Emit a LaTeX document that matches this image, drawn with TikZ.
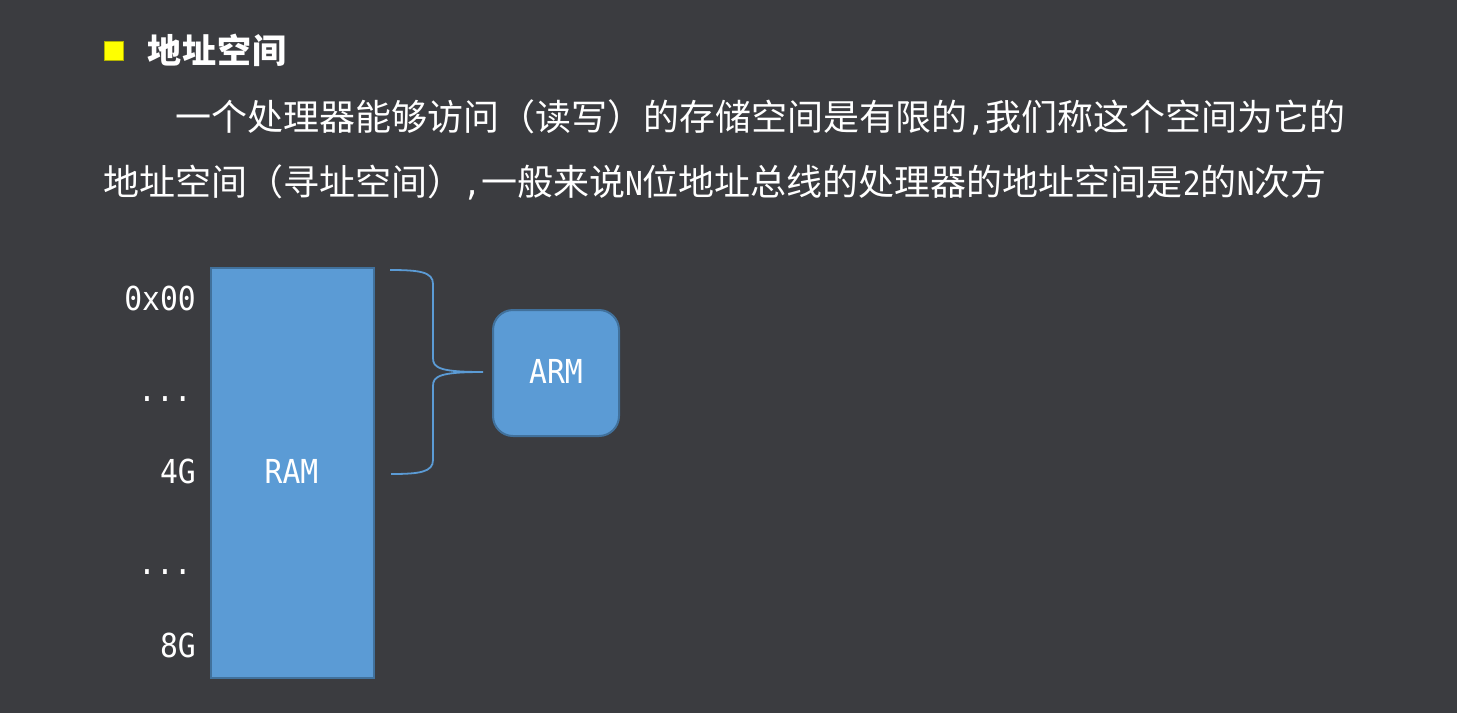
\documentclass[tikz,border=0pt]{standalone}
\usepackage{fontspec}
\setmainfont{Noto Sans CJK SC}
\newfontfamily\cjk{Noto Sans CJK SC}
\newfontfamily\lab[FakeStretch=0.9]{DejaVu Sans Mono}
\definecolor{bg}{HTML}{3B3C40}
\definecolor{boxfill}{HTML}{5B9BD5}
\definecolor{boxline}{HTML}{41719C}
\definecolor{bullet}{HTML}{FFFF00}
\newcommand{\hw}[1]{{\lab\fontsize{33}{40}\selectfont #1}}
\tikzset{
  txt/.style={inner sep=0pt, text=white},
  body/.style={txt, anchor=base west, font=\cjk\fontsize{36}{40}\selectfont},
  labfont/.style={font=\lab\fontsize{33}{40}\selectfont},
  addr/.style={txt, labfont, anchor=east},
  mem/.style={draw=boxline, line width=2pt, fill=boxfill},
  brace/.style={draw=boxfill, line width=1.8pt}
}
\begin{document}
\begin{tikzpicture}[x=1pt,y=-1pt]
\fill[bg] (0,0) rectangle (1457,713);
\useasboundingbox (0,0) rectangle (1457,713);
% title
\node[fill=bullet, draw=bullet!70!black, line width=0.5pt, minimum size=19pt, inner sep=0pt] (bul) at (113.5,51) {};
\node[body, font=\cjk\bfseries\fontsize{34}{40}\selectfont] (title) at (147,63) {地\hspace{1pt}址\hspace{1pt}空\hspace{1pt}间};
% paragraph
\node[body] (l1) at (175,130) {一个处理器能够访问（读写）的存储空间是有限的\hw{,}我们称这个空间为它的};
\node[body] (l2) at (103,195) {地址空间（寻址空间）\hw{,}一般来说\hw{N}位地址总线的处理器的地址空间是\hw{2}的\hw{N}次方};
% RAM
\node[mem, minimum width=163pt, minimum height=410pt, inner sep=0pt, anchor=north west] (ram) at (210,267) {};
\node[txt, labfont] (ramt) at (291.5,471) {RAM};
% addresses
\node[addr] (a0) at (196,298) {0x00};
\node[txt, labfont] (d1) at (165,399) {...};
\node[addr] (a4) at (196,471) {4G};
\node[txt, labfont] (d2) at (165,572) {...};
\node[addr] (a8) at (196,645) {8G};
% ARM
\node[mem, rounded corners=20pt, minimum width=126pt, minimum height=126pt, inner sep=0pt, anchor=north west] (arm) at (492,309) {};
\node[txt, labfont] (armt) at (556,371) {ARM};
% brace
\coordinate (bt) at (390,270);
\coordinate (bb) at (391,474);
\coordinate (tip) at (483,372);
\draw[brace] (bt) .. controls (420,270) and (433,272) .. (433,284)
  -- (433,358) .. controls (433,368) and (440,372) .. (tip)
  .. controls (440,372) and (433,376) .. (433,386)
  -- (433,460) .. controls (433,472) and (420,474) .. (bb);
\end{tikzpicture}
\end{document}
